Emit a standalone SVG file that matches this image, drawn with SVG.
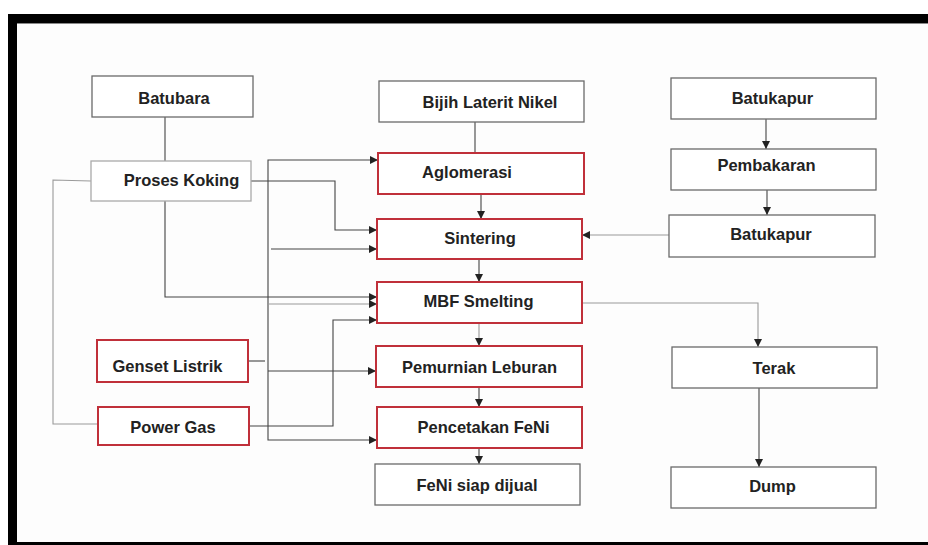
<svg xmlns="http://www.w3.org/2000/svg" width="928" height="545" viewBox="0 0 928 545">
<style>
.box{fill:#fff;stroke:#6a6a6a;stroke-width:1.3}
.red{fill:#fff;stroke:#c0303a;stroke-width:2}
.t{font-family:"Liberation Sans",Arial,sans-serif;font-weight:bold;font-size:16.5px;fill:#222;text-anchor:middle}
.c{fill:none;stroke:#444;stroke-width:1.1}
.cl{fill:none;stroke:#9a9a9a;stroke-width:1.1}
</style>
<defs>
<marker id="ah" viewBox="0 0 10 10" refX="10" refY="5" markerWidth="8" markerHeight="8" markerUnits="userSpaceOnUse" orient="auto-start-reverse">
<path d="M0,0 L10,5 L0,10 z" fill="#222"/>
</marker>
</defs>
<rect x="0" y="0" width="928" height="545" fill="#fff"/>
<rect x="8" y="14" width="930" height="540" fill="#000"/>
<rect x="17" y="23" width="920" height="519" fill="#fdfdfd"/>
<line x1="17" y1="23.5" x2="928" y2="23.5" stroke="#888" stroke-width="1"/>

<g id="connectors">
<path class="c" d="M165,117 V161"/>
<path class="c" d="M475,122 V153"/>
<path class="c" d="M481,194 V219" marker-end="url(#ah)"/>
<path class="c" d="M479,259 V282" marker-end="url(#ah)"/>
<path class="cl" d="M479,323 V346" marker-end="url(#ah)"/>
<path class="c" d="M479,387 V407" marker-end="url(#ah)"/>
<path class="c" d="M479,448 V464" marker-end="url(#ah)"/>
<path class="c" d="M766,119 V149" marker-end="url(#ah)"/>
<path class="c" d="M767,190 V215" marker-end="url(#ah)"/>
<path class="cl" d="M669,235 H582" marker-end="url(#ah)"/>
<path class="cl" d="M582,303 H758 V347" marker-end="url(#ah)"/>
<path class="c" d="M759,388 V467" marker-end="url(#ah)"/>
<path class="cl" d="M91,181 L53,180 V424 H98"/>
<path class="c" d="M251,181 H335 V230 H377" marker-end="url(#ah)"/>
<path class="c" d="M165,201 V297 H377" marker-end="url(#ah)"/>
<path class="c" d="M378,160 H268 V440 H377" marker-start="url(#ah)" marker-end="url(#ah)"/>
<path class="c" d="M271,249 H377" marker-end="url(#ah)"/>
<path class="cl" d="M268,304 H377" marker-end="url(#ah)"/>
<path class="c" d="M268,371 H376" marker-end="url(#ah)"/>
<path class="c" d="M248,361 H265"/>
<path class="c" d="M249,426 H333 V320 H377" marker-end="url(#ah)"/>
</g>

<g id="batubara"><rect class="box" x="92" y="76" width="161" height="41"/><text class="t" x="174" y="104">Batubara</text></g>
<g id="proses-koking"><rect class="box" x="91" y="161" width="160" height="40" style="stroke:#aaa"/><text class="t" x="181.5" y="186">Proses Koking</text></g>
<g id="bijih"><rect class="box" x="379" y="81" width="205" height="41"/><text class="t" x="490" y="108">Bijih Laterit Nikel</text></g>
<g id="aglomerasi"><rect class="red" x="378" y="153" width="206" height="41"/><text class="t" x="467" y="178">Aglomerasi</text></g>
<g id="sintering"><rect class="red" x="377" y="219" width="205" height="40"/><text class="t" x="480" y="244">Sintering</text></g>
<g id="mbf"><rect class="red" x="377" y="282" width="205" height="41"/><text class="t" x="478.5" y="307">MBF Smelting</text></g>
<g id="pemurnian"><rect class="red" x="376" y="346" width="206" height="41"/><text class="t" x="479.5" y="373">Pemurnian Leburan</text></g>
<g id="pencetakan"><rect class="red" x="377" y="407" width="205" height="41"/><text class="t" x="483.5" y="433">Pencetakan FeNi</text></g>
<g id="feni"><rect class="box" x="375" y="464" width="205" height="41"/><text class="t" x="477" y="491">FeNi siap dijual</text></g>
<g id="genset"><rect class="red" x="97" y="340" width="151" height="42"/><text class="t" x="167.5" y="372">Genset Listrik</text></g>
<g id="power-gas"><rect class="red" x="98" y="407" width="151" height="38"/><text class="t" x="173" y="433">Power Gas</text></g>
<g id="batukapur1"><rect class="box" x="671" y="78" width="205" height="41"/><text class="t" x="772.5" y="104">Batukapur</text></g>
<g id="pembakaran"><rect class="box" x="671" y="149" width="205" height="41"/><text class="t" x="766.5" y="171">Pembakaran</text></g>
<g id="batukapur2"><rect class="box" x="669" y="215" width="206" height="42"/><text class="t" x="771" y="240">Batukapur</text></g>
<g id="terak"><rect class="box" x="672" y="347" width="205" height="41"/><text class="t" x="774" y="374">Terak</text></g>
<g id="dump"><rect class="box" x="671" y="467" width="205" height="41"/><text class="t" x="772.5" y="492">Dump</text></g>
</svg>
